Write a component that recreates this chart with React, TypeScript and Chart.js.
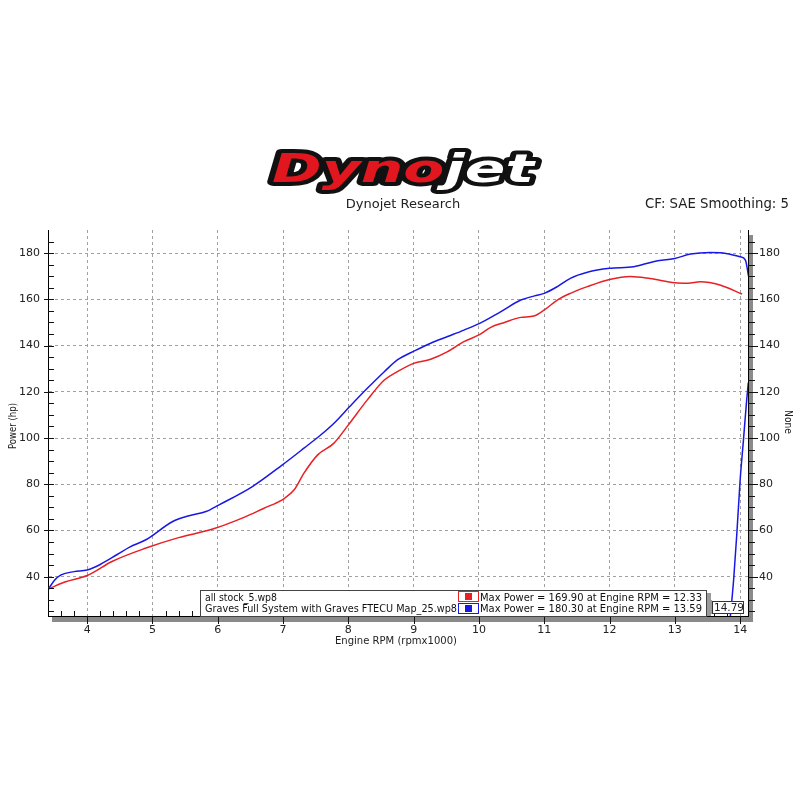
import React, { useEffect, useRef } from "react";
import { Chart, registerables } from "chart.js";

Chart.register(...registerables);

// ---- data ----
const stockRpm = [3.41, 3.67, 4.0, 4.38, 4.89, 5.4, 5.91, 6.42, 6.7, 6.93, 7.0, 7.17, 7.32, 7.53, 7.78, 8.0, 8.29, 8.55, 8.75, 9.0, 9.26, 9.52, 9.77, 10.0, 10.18, 10.38, 10.64, 10.84, 11.0, 11.2, 11.4, 11.66, 12.0, 12.32, 12.62, 13.0, 13.2, 13.39, 13.69, 14.03];
const stockHp = [34.8, 37.8, 40.5, 46.6, 52.3, 56.9, 60.5, 65.9, 69.5, 72.4, 73.5, 77.6, 84.8, 92.7, 97.8, 105.7, 116.5, 125.1, 128.7, 132.3, 134.1, 137.4, 141.7, 144.6, 147.9, 149.9, 152.2, 152.8, 155.4, 159.7, 162.6, 165.5, 168.6, 169.9, 169.0, 167.2, 167.0, 167.6, 166.2, 162.3];

const gravesRpm = [3.41, 3.5, 3.6, 3.8, 4.0, 4.2, 4.46, 4.65, 4.9, 5.31, 5.56, 5.82, 6.02, 6.53, 6.99, 7.32, 7.58, 7.78, 8.02, 8.29, 8.55, 8.75, 9.02, 9.26, 9.52, 9.77, 10.01, 10.33, 10.64, 10.85, 11.0, 11.2, 11.4, 11.66, 12.0, 12.37, 12.67, 13.0, 13.24, 13.54, 13.74, 14.0, 14.08, 14.13];
const gravesHp = [34.8, 38.5, 40.8, 42.2, 42.9, 45.3, 49.6, 52.8, 56.0, 63.9, 66.4, 68.2, 71.1, 79.0, 88.4, 95.6, 101.4, 106.4, 113.6, 121.5, 128.7, 133.8, 137.8, 141.0, 143.9, 146.7, 149.6, 154.6, 159.7, 161.5, 162.6, 165.5, 169.1, 171.7, 173.4, 174.1, 176.3, 177.7, 179.6, 180.3, 180.1, 178.4, 177.0, 169.8];

const noneRpm = [13.84, 13.9, 13.95, 14.0, 14.05, 14.1, 14.125];
const noneVal = [20, 38.7, 59, 82, 99, 116.5, 124];

const xMajor = [4, 5, 6, 7, 8, 9, 10, 11, 12, 13, 14];
const yMajor = [40, 60, 80, 100, 120, 140, 160, 180];
const X_MIN = 3.4;
const X_MAX = 14.12;
const Y_MIN = 23;
const Y_MAX = 190;

const runNames = ["all stock_5.wp8", "Graves Full System with Graves FTECU Map_25.wp8"];
const runMax = ["Max Power = 169.90 at Engine RPM = 12.33", "Max Power = 180.30 at Engine RPM = 13.59"];
const headerCenter = "Dynojet Research";
const headerRight = "CF: SAE Smoothing: 5";
const xTitle = "Engine RPM (rpmx1000)";
const yTitle = "Power (hp)";
const y2Title = "None";
const cursorLabel = "14.79";

const RED = "rgb(232,32,36)";
const BLUE = "rgb(24,24,230)";
const FONT = '"DejaVu Sans", sans-serif';

const isMajorX = (v: number) => xMajor.some((m) => Math.abs(m - v) < 1e-6);
const isMajorY = (v: number) => yMajor.some((m) => Math.abs(m - v) < 1e-6);

const xTickValues: number[] = [];
for (let i = 18; i <= 70; i++) xTickValues.push(Math.round(i * 2) / 10);
const yTickValues: number[] = [];
for (let v = 25; v <= 185; v += 5) yTickValues.push(v);

const decorPlugin = {
  id: "decor",
  beforeDraw(chart: any) {
    const { ctx } = chart;
    ctx.save();
    ctx.fillStyle = "#fff";
    ctx.fillRect(0, 0, chart.width, chart.height);
    ctx.restore();
  },
  afterDraw(chart: any) {
    const { ctx, chartArea } = chart;
    const { left, right, top, bottom } = chartArea;
    const xs = chart.scales.x;
    const ys = chart.scales.y;

    ctx.save();
    // shadows of the frame
    ctx.fillStyle = "#8a8a8a";
    ctx.fillRect(right + 1, top + 5, 4, bottom - top + 1);
    ctx.fillRect(left + 4, bottom + 1, right - left + 1, 5);

    // tick marks
    ctx.strokeStyle = "#111";
    ctx.lineWidth = 1;
    ctx.beginPath();
    xs.ticks.forEach((t: any) => {
      const px = Math.round(xs.getPixelForValue(t.value)) + 0.5;
      if (isMajorX(t.value)) {
        ctx.moveTo(px, bottom);
        ctx.lineTo(px, bottom + 8);
      } else {
        ctx.moveTo(px, bottom - 5);
        ctx.lineTo(px, bottom);
      }
    });
    ys.ticks.forEach((t: any) => {
      const py = Math.round(ys.getPixelForValue(t.value)) + 0.5;
      if (isMajorY(t.value)) {
        ctx.moveTo(left - 4, py);
        ctx.lineTo(left + 6, py);
        ctx.moveTo(right, py);
        ctx.lineTo(right + 10, py);
      } else {
        ctx.moveTo(left, py);
        ctx.lineTo(left + 6, py);
        ctx.moveTo(right, py);
        ctx.lineTo(right + 7, py);
      }
    });
    ctx.stroke();

    // header texts
    ctx.fillStyle = "#222";
    ctx.font = `13px ${FONT}`;
    ctx.textAlign = "center";
    ctx.textBaseline = "middle";
    ctx.fillText(headerCenter, 403, 205);
    ctx.textAlign = "right";
    ctx.font = `14px ${FONT}`;
    ctx.fillText(headerRight, 789, 204, 144);

    // logo
    ctx.save();
    ctx.font = `italic bold 44px ${FONT}`;
    ctx.textAlign = "left";
    ctx.textBaseline = "alphabetic";
    const w1 = ctx.measureText("Dyno").width;
    const w2 = ctx.measureText("jet").width;
    const sx = 262 / (w1 + w2);
    ctx.translate(272, 182);
    ctx.scale(sx, 0.88);
    ctx.lineJoin = "round";
    ctx.lineWidth = 9;
    ctx.strokeStyle = "#111";
    ctx.strokeText("Dyno", 0, 0);
    ctx.strokeText("jet", w1, 0);
    ctx.fillStyle = "rgb(226,22,30)";
    ctx.fillText("Dyno", 0, 0);
    ctx.fillStyle = "#fff";
    ctx.fillText("jet", w1, 0);
    ctx.restore();

    // axis titles
    ctx.fillStyle = "#222";
    ctx.font = `11px ${FONT}`;
    ctx.textAlign = "center";
    ctx.textBaseline = "middle";
    ctx.fillText(xTitle, (left + right) / 2 - 2, 641, 122);
    ctx.save();
    ctx.translate(13, 426);
    ctx.rotate(-Math.PI / 2);
    ctx.fillText(yTitle, 0, 0, 46);
    ctx.restore();
    ctx.save();
    ctx.translate(788, 422);
    ctx.rotate(Math.PI / 2);
    ctx.fillText(y2Title, 0, 0, 24);
    ctx.restore();

    // run legend box
    const bx = 200, by = 590, bw = 506, bh = 26;
    ctx.fillStyle = "#9a9a9a";
    ctx.fillRect(bx + bw, by + 3, 5, bh - 3);
    ctx.fillStyle = "#fff";
    ctx.fillRect(bx, by, bw, bh);
    ctx.strokeStyle = "#444";
    ctx.strokeRect(bx + 0.5, by + 0.5, bw, bh);
    ctx.font = `11px ${FONT}`;
    ctx.textAlign = "left";
    ctx.fillStyle = "#111";
    ctx.fillText(runNames[0], bx + 5, by + 8, 72);
    ctx.fillText(runNames[1], bx + 5, by + 19, 252);
    const colors = [RED, BLUE];
    for (let i = 0; i < 2; i++) {
      const my = by + 1 + i * 12;
      ctx.strokeStyle = colors[i];
      ctx.strokeRect(458.5, my + 0.5, 20, 10);
      ctx.fillStyle = colors[i];
      ctx.fillRect(465, my + 2, 7, 7);
      ctx.fillStyle = "#111";
      ctx.fillText(runMax[i], 480, by + 8 + i * 11, 222);
    }

    // cursor readout clutter
    ctx.fillStyle = "#9a9a9a";
    ctx.fillRect(707, 600, 5, 14);
    ctx.fillStyle = "#fff";
    ctx.fillRect(712, 601, 32, 13);
    ctx.strokeStyle = "#333";
    ctx.strokeRect(712.5, 601.5, 31, 12);
    ctx.fillStyle = "#222";
    ctx.font = `11px ${FONT}`;
    ctx.fillText(cursorLabel, 714, 608, 30);
    ctx.restore();
  },
};

export default function App() {
  const ref = useRef<HTMLCanvasElement | null>(null);

  useEffect(() => {
    if (!ref.current) return;
    const gridColor = (c: any) => (c.tick && isMajorX(c.tick.value) ? "#a0a0a0" : "rgba(0,0,0,0)");
    const gridColorY = (c: any) => (c.tick && isMajorY(c.tick.value) ? "#a0a0a0" : "rgba(0,0,0,0)");
    const tickFont = { family: "DejaVu Sans", size: 11 };
    const chart = new Chart(ref.current, {
      type: "line",
      data: {
        datasets: [
          {
            label: runNames[0],
            data: stockRpm.map((x, i) => ({ x, y: stockHp[i] })),
            borderColor: RED,
            borderWidth: 1.5,
            pointRadius: 0,
            cubicInterpolationMode: "monotone",
            yAxisID: "y",
          },
          {
            label: runNames[1],
            data: gravesRpm.map((x, i) => ({ x, y: gravesHp[i] })),
            borderColor: BLUE,
            borderWidth: 1.5,
            pointRadius: 0,
            cubicInterpolationMode: "monotone",
            yAxisID: "y",
          },
          {
            label: y2Title,
            data: noneRpm.map((x, i) => ({ x, y: noneVal[i] })),
            borderColor: BLUE,
            borderWidth: 1.5,
            pointRadius: 0,
            cubicInterpolationMode: "monotone",
            yAxisID: "y2",
          },
        ],
      },
      options: {
        responsive: false,
        animation: false,
        events: [],
        layout: { padding: { top: 230, left: 0, right: 0, bottom: 0 } },
        plugins: { legend: { display: false }, tooltip: { enabled: false } },
        scales: {
          x: {
            type: "linear",
            min: X_MIN,
            max: X_MAX,
            afterBuildTicks: (s: any) => {
              s.ticks = xTickValues.map((value) => ({ value }));
            },
            afterFit: (s: any) => {
              s.height = 184;
            },
            grid: { color: gridColor, drawTicks: false, lineWidth: 1 },
            border: { display: true, color: "#000", width: 1, dash: [3, 3] },
            ticks: {
              autoSkip: false,
              maxRotation: 0,
              padding: 8,
              color: "#222",
              font: tickFont,
              callback: (v: any) => (isMajorX(Number(v)) ? String(Math.round(Number(v))) : ""),
            },
          },
          y: {
            type: "linear",
            position: "left",
            min: Y_MIN,
            max: Y_MAX,
            afterBuildTicks: (s: any) => {
              s.ticks = yTickValues.map((value) => ({ value }));
            },
            afterFit: (s: any) => {
              s.width = 48;
            },
            grid: { color: gridColorY, drawTicks: false, lineWidth: 1 },
            border: { display: true, color: "#000", width: 1, dash: [3, 3] },
            ticks: {
              autoSkip: false,
              padding: 8,
              color: "#222",
              font: tickFont,
              callback: (v: any) => (isMajorY(Number(v)) ? String(v) : ""),
            },
          },
          y2: {
            type: "linear",
            position: "right",
            min: Y_MIN,
            max: Y_MAX,
            afterBuildTicks: (s: any) => {
              s.ticks = yTickValues.map((value) => ({ value }));
            },
            afterFit: (s: any) => {
              s.width = 52;
            },
            grid: { drawOnChartArea: false, drawTicks: false },
            border: { display: true, color: "#000", width: 1 },
            ticks: {
              autoSkip: false,
              padding: 11,
              color: "#222",
              font: tickFont,
              callback: (v: any) => (isMajorY(Number(v)) ? String(v) : ""),
            },
          },
        },
      },
      plugins: [decorPlugin],
    } as any);
    return () => chart.destroy();
  }, []);

  return (
    <div style={{ position: "absolute", left: 0, top: 0, width: 800, height: 800, background: "#fff" }}>
      <canvas ref={ref} width={800} height={800} style={{ display: "block" }} />
    </div>
  );
}
